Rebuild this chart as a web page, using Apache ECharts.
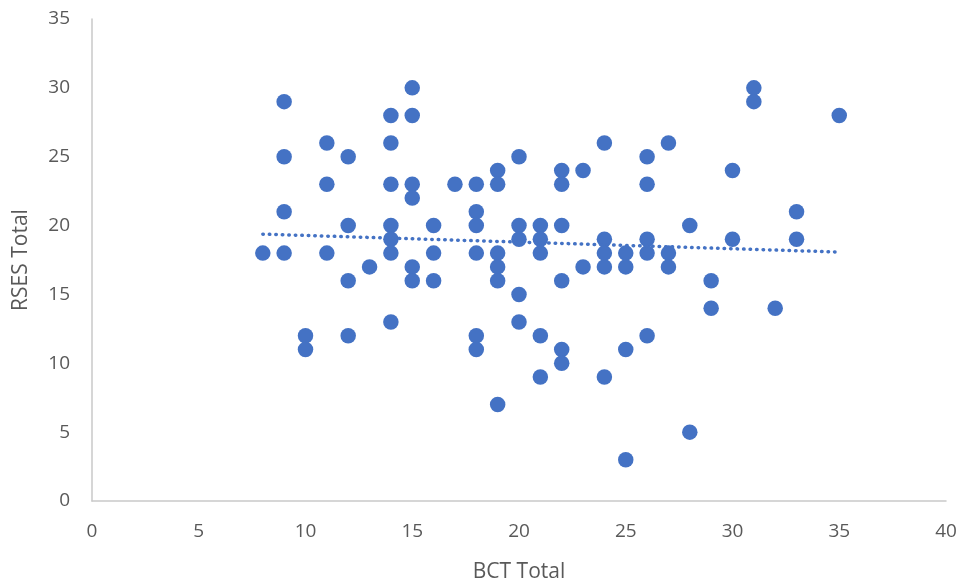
<!DOCTYPE html>
<html>
<head>
<meta charset="utf-8">
<script src="https://cdn.jsdelivr.net/npm/echarts@6/dist/echarts.min.js"></script>
<style>
  html, body { margin: 0; padding: 0; background: #fff; }
  #main { width: 962px; height: 588px; }
</style>
</head>
<body>
<div id="main"></div>
<script>
// BCT Total (x) / RSES Total (y)
var bct = [
  8,
  9, 9, 9, 9,
  10, 10,
  11, 11, 11,
  12, 12, 12, 12,
  13,
  14, 14, 14, 14, 14, 14, 14,
  15, 15, 15, 15, 15, 15,
  16, 16, 16,
  17,
  18, 18, 18, 18, 18, 18,
  19, 19, 19, 19, 19, 19,
  20, 20, 20, 20, 20,
  21, 21, 21, 21, 21,
  22, 22, 22, 22, 22, 22,
  23, 23,
  24, 24, 24, 24, 24,
  25, 25, 25, 25,
  26, 26, 26, 26, 26,
  27, 27, 27,
  28, 28,
  29, 29,
  30, 30,
  31, 31,
  32,
  33, 33,
  35
];
var rses = [
  18,
  29, 25, 21, 18,
  12, 11,
  26, 23, 18,
  25, 20, 16, 12,
  17,
  28, 26, 23, 20, 19, 18, 13,
  30, 28, 23, 22, 17, 16,
  20, 18, 16,
  23,
  23, 21, 20, 18, 12, 11,
  24, 23, 18, 17, 16, 7,
  25, 20, 19, 15, 13,
  20, 19, 18, 12, 9,
  24, 23, 20, 16, 11, 10,
  24, 17,
  26, 19, 18, 17, 9,
  18, 17, 11, 3,
  25, 23, 19, 18, 12,
  26, 18, 17,
  20, 5,
  16, 14,
  24, 19,
  30, 29,
  14,
  21, 19,
  28
];
var xTicks = [0, 5, 10, 15, 20, 25, 30, 35, 40];
var yTicks = [0, 5, 10, 15, 20, 25, 30, 35];

var points = bct.map(function (x, i) { return [x, rses[i]]; });

// linear trendline (least squares), drawn across the data range
var n = bct.length, sx = 0, sy = 0, sxx = 0, sxy = 0;
for (var i = 0; i < n; i++) {
  sx += bct[i]; sy += rses[i];
  sxx += bct[i] * bct[i]; sxy += bct[i] * rses[i];
}
var slope = (n * sxy - sx * sy) / (n * sxx - sx * sx);
var icpt = (sy - slope * sx) / n;
var xMin = Math.min.apply(null, bct), xMax = Math.max.apply(null, bct);
var trend = [[xMin, icpt + slope * xMin], [xMax, icpt + slope * xMax]];

var font = 'Open Sans, Liberation Sans, sans-serif';
var myChart = echarts.init(document.getElementById('main'));
myChart.setOption({
  animation: false,
  grid: { left: 92, right: 16, top: 19, bottom: 86 },
  xAxis: {
    type: 'value',
    min: xTicks[0], max: xTicks[xTicks.length - 1], interval: 5,
    name: 'BCT Total', nameLocation: 'middle', nameGap: 61,
    nameTextStyle: { fontSize: 21, color: '#595959', fontFamily: font },
    axisLine: { show: true, lineStyle: { color: '#c9c9c9', width: 1.5 } },
    axisTick: { show: false },
    splitLine: { show: false },
    axisLabel: { fontSize: 19, color: '#595959', fontFamily: font, margin: 21 }
  },
  yAxis: {
    type: 'value',
    min: yTicks[0], max: yTicks[yTicks.length - 1], interval: 5,
    name: 'RSES Total', nameLocation: 'middle', nameGap: 60,
    nameTextStyle: { fontSize: 21, color: '#595959', fontFamily: font },
    axisLine: { show: true, lineStyle: { color: '#c9c9c9', width: 1.5 } },
    axisTick: { show: false },
    splitLine: { show: false },
    axisLabel: { fontSize: 19, color: '#595959', fontFamily: font, margin: 22 }
  },
  series: [
    {
      type: 'scatter',
      data: points,
      symbolSize: 15.5,
      itemStyle: { color: '#4472C4', opacity: 1 }
    },
    {
      type: 'line',
      data: trend,
      symbol: 'none',
      silent: true,
      lineStyle: { color: '#4472C4', width: 3.5, type: [0.5, 6], cap: 'round' }
    }
  ]
});
</script>
</body>
</html>
